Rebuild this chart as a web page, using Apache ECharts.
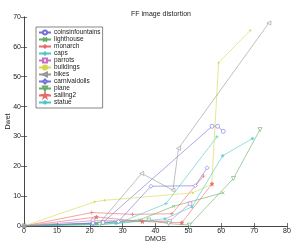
<!DOCTYPE html>
<html>
<head>
<meta charset="utf-8">
<script src="https://cdn.jsdelivr.net/npm/echarts@6/dist/echarts.min.js"></script>
<style>
html,body{margin:0;padding:0;background:#fff;}
#main{width:293px;height:241px;}
</style>
</head>
<body>
<div id="main"></div>
<script>
var names = ['coinsinfountains','lighthouse','monarch','caps','parrots','buildings','bikes','carnivaldolls','plane','sailing2','statue'];

var coinsinfountains = [[0,0],[21,0.8],[24,1.2],[57.2,33.4],[58.9,33.4],[60.6,31.7]];
var lighthouse = [[0,0],[22,0.8],[35.3,2.1],[45.5,6.6],[60.5,11.1]];
var monarch = [[0,0],[20.6,4.5],[33,3.9],[45,4.1],[54.6,16.7]];
var caps = [[0,0],[22.5,1],[30,1.5],[43.2,7.5],[58.7,29.9]];
var parrots = [[0,0],[21,1.8],[44.3,1.6],[50.5,7.5]];
var buildings = [[0,0],[21.5,8.1],[24.5,8.6],[51.3,11.1],[57.1,14],[59.2,54.7],[68.8,65.5]];
var bikes = [[0,0],[23,1],[35.8,17.6],[45.3,12],[47,26],[74.5,68]];
var carnivaldolls = [[0,0],[21,1],[28.7,1.5],[38.6,13.3],[52.1,13.5],[55.7,19.5]];
var plane = [[0,0],[23,0.5],[38,2],[44,0.8],[50.3,0.3],[63.7,15.9],[71.8,32.3]];
var sailing2 = [[0,0],[22,3],[36,1.5],[48,1.1],[57.2,14.1]];
var statue = [[0,0],[22,0.5],[28,0.8],[42.9,2.4],[51.1,6.4],[60.4,23.5],[69.5,29.3]];

var xTicks = [0,10,20,30,40,50,60,70,80];
var yTicks = [0,10,20,30,40,50,60,70];

var allData = [coinsinfountains,lighthouse,monarch,caps,parrots,buildings,bikes,carnivaldolls,plane,sailing2,statue];
var colors = ['#7070d8','#66ad66','#e86a6a','#4cc8c8','#c870c8','#d6d64a','#969696','#7070d8','#66ad66','#e86a6a','#4cc8c8'];

var symX = 'path://M0,0L10,10M10,0L0,10';
var symPlus = 'path://M5,0L5,10M0,5L10,5';
var symStar = 'path://M5,0L5,10M0,5L10,5M1.5,1.5L8.5,8.5M8.5,1.5L1.5,8.5';
var symPent = 'path://M5,0L6.2,3.6L10,3.6L6.9,5.9L8.1,9.5L5,7.3L1.9,9.5L3.1,5.9L0,3.6L3.8,3.6Z';
var symbols = ['circle',symX,symPlus,symPlus,'rect','circle','triangle','diamond','triangle',symPent,symStar];
var hollow = [true,false,false,false,true,false,true,true,true,false,false];
var sizes = [4,3,4,3.5,3.5,1.5,4,4,4,4,3.5];
var rotates = [0,0,0,0,0,0,90,0,180,0,0];

var series = [];
for (var i = 0; i < names.length; i++) {
    series.push({
        name: names[i],
        type: 'line',
        data: allData[i],
        symbol: symbols[i],
        symbolSize: sizes[i],
        symbolRotate: rotates[i],
        showAllSymbol: true,
        color: colors[i],
        lineStyle: {width: 0.6, color: colors[i]},
        itemStyle: {color: hollow[i] ? '#fff' : colors[i], borderColor: colors[i], borderWidth: 0.6},
        emphasis: {disabled: true},
        animation: false
    });
}

var axisCommon = {
    axisLine: {lineStyle: {color: '#333', width: 0.7}},
    axisTick: {inside: true, length: 3, lineStyle: {color: '#333', width: 0.7}},
    splitLine: {show: false}
};

var chart = echarts.init(document.getElementById('main'));
chart.setOption({
    backgroundColor: '#fff',
    animation: false,
    title: {
        text: 'FF image distortion',
        left: 156, top: 6, textAlign: 'center',
        textStyle: {fontSize: 7, fontWeight: 'normal', color: '#222', fontFamily: 'Liberation Sans'}
    },
    legend: {
        orient: 'vertical',
        left: 36, top: 27,
        padding: [2, 2, 2, 2],
        itemWidth: 12, itemHeight: 5, itemGap: 0,
        borderColor: '#555', borderWidth: 0.7,
        backgroundColor: '#fff',
        textStyle: {fontSize: 6.5, lineHeight: 6, color: '#222', fontFamily: 'Liberation Sans', padding: [0,0,0,-2]},
        data: names
    },
    grid: {left: 24, right: 6, top: 17, bottom: 15, containLabel: false, outerBoundsMode: 'none'},
    xAxis: [
        Object.assign({
            type: 'value', min: 0, max: 80, interval: 10,
            name: 'DMOS', nameLocation: 'middle', nameGap: 10, nameMoveOverlap: false,
            nameTextStyle: {fontSize: 7, color: '#222', fontFamily: 'Liberation Sans'},
            axisLabel: {fontSize: 7, color: '#222', margin: 2, fontFamily: 'Liberation Sans',
                formatter: function (v) { return xTicks.indexOf(v) >= 0 ? v : ''; }}
        }, axisCommon),
        Object.assign({
            type: 'value', min: 0, max: 80, interval: 10, position: 'top',
            axisLabel: {show: false}
        }, axisCommon)
    ],
    yAxis: [
        Object.assign({
            type: 'value', min: 0, max: 70, interval: 10,
            name: 'Dwet', nameLocation: 'middle', nameGap: 12, nameMoveOverlap: false,
            nameTextStyle: {fontSize: 7, color: '#222', fontFamily: 'Liberation Sans'},
            axisLabel: {fontSize: 7, color: '#222', margin: 3, fontFamily: 'Liberation Sans',
                formatter: function (v) { return yTicks.indexOf(v) >= 0 ? v : ''; }}
        }, axisCommon),
        Object.assign({
            type: 'value', min: 0, max: 70, interval: 10, position: 'right',
            axisLabel: {show: false}
        }, axisCommon)
    ],
    series: series
});
</script>
</body>
</html>
